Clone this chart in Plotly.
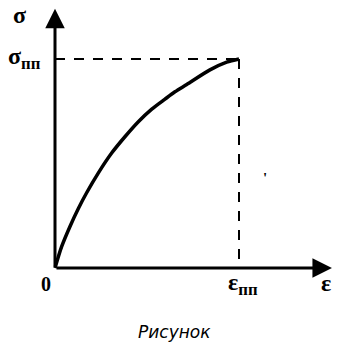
import plotly.graph_objects as go

# Curve data (normalized: eps_pp = 1, sigma_pp = 1)
eps = [0, 0.036, 0.082, 0.127, 0.172, 0.235, 0.308, 0.380, 0.453, 0.526, 0.598, 0.652, 0.716, 0.842, 0.933, 1.0]
sigma = [0, 0.102, 0.200, 0.285, 0.360, 0.454, 0.550, 0.628, 0.700, 0.760, 0.808, 0.843, 0.878, 0.948, 0.985, 1.0]
eps_pp = 1.0
sigma_pp = 1.0
x_axis_end = 1.505
y_axis_end = 1.24

fig = go.Figure()

# dashed guide lines
fig.add_trace(go.Scatter(x=[0, eps_pp], y=[sigma_pp, sigma_pp], mode="lines",
                         line=dict(color="black", width=2, dash="10px,9px"), hoverinfo="skip"))
fig.add_trace(go.Scatter(x=[eps_pp, eps_pp], y=[sigma_pp, 0], mode="lines",
                         line=dict(color="black", width=2, dash="10px,9px"), hoverinfo="skip"))
# curve
fig.add_trace(go.Scatter(x=eps, y=sigma, mode="lines",
                         line=dict(color="black", width=3.5, shape="spline", smoothing=0.8),
                         hoverinfo="skip"))

serif = "Liberation Serif"
ann = []
# axes arrows
ann.append(dict(x=x_axis_end, y=0, ax=0, ay=0, xref="x", yref="y", axref="x", ayref="y",
                showarrow=True, arrowhead=2, arrowsize=1.3, arrowwidth=3, arrowcolor="black", text=""))
ann.append(dict(x=0, y=y_axis_end, ax=0, ay=0, xref="x", yref="y", axref="x", ayref="y",
                showarrow=True, arrowhead=2, arrowsize=1.3, arrowwidth=3, arrowcolor="black", text=""))

W, H = 339, 342


def P(px, py):
    return px / W, 1 - py / H


def txt(px, py, t, size, font=serif):
    x, y = P(px, py)
    ann.append(dict(x=x, y=y, xref="paper", yref="paper", text=t, showarrow=False,
                    font=dict(family=font, size=size, color="black"),
                    xanchor="center", yanchor="middle"))


txt(19, 15, "<b>σ</b>", 24)
txt(24, 58, "<b>σ<sub>пп</sub></b>", 24)
txt(46, 284, "<b>0</b>", 20)
txt(243, 284, "<b>ε<sub>пп</sub></b>", 24)
txt(326, 283, "<b>ε</b>", 24)
txt(175, 332, "<i>Рисунок</i>", 17, font="DejaVu Sans")
txt(265, 178, "<b>'</b>", 15)

fig.update_layout(
    width=W, height=H, margin=dict(l=0, r=0, t=0, b=0),
    paper_bgcolor="white", plot_bgcolor="white", showlegend=False,
    xaxis=dict(range=[-55 / 184, (W - 55) / 184], visible=False, fixedrange=True),
    yaxis=dict(range=[(268 - H) / 209, 268 / 209], visible=False, fixedrange=True),
    annotations=ann,
)

fig.write_html("out.html", config={"displayModeBar": False},
               post_script="document.body.style.margin='0';document.body.style.overflow='hidden';")
